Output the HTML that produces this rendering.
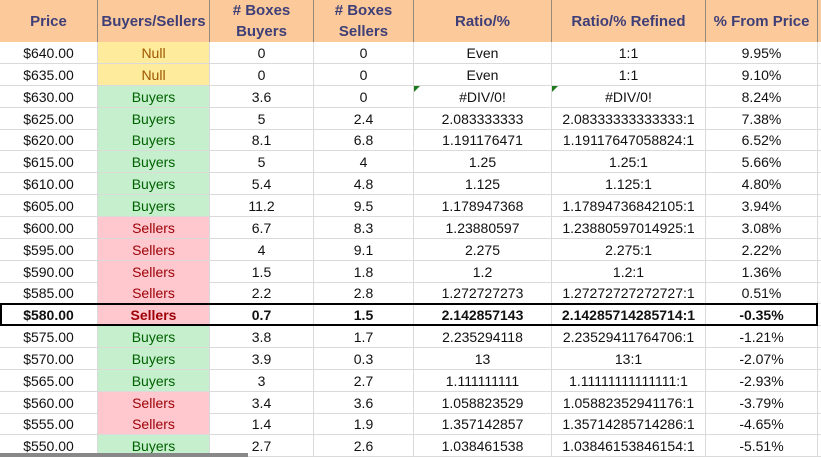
<!DOCTYPE html>
<html><head><meta charset="utf-8"><style>
body{margin:0;width:821px;height:457px;overflow:hidden;background:#fff;font-family:"Liberation Sans",sans-serif;position:relative}
.h{position:absolute;top:0;height:42px;background:#fcc99a;color:#3f3f78;font-weight:bold;font-size:15px;display:flex;align-items:center;justify-content:center;text-align:center;line-height:21px;box-sizing:border-box;border-right:1px solid #9a8a7a}
.r{position:absolute;left:0;width:821px;height:22px;border-bottom:1px solid #dadada;box-sizing:border-box}
.c{position:absolute;top:0;height:21px;line-height:22px;text-align:center;font-size:14px;color:#111;border-right:1px solid #dadada;box-sizing:border-box}
.n{background:#ffeb9c;color:#9c5700}.b{background:#c6efce;color:#006100}.s{background:#ffc7ce;color:#9c0006}
.bold .c{font-weight:bold}
.tri{position:absolute;top:0;left:0;width:0;height:0;border-top:6px solid #1e7a1e;border-right:6px solid transparent}
</style></head><body>
<div class="h" style="left:0;width:98px">Price</div>
<div class="h" style="left:98px;width:112px">Buyers/Sellers</div>
<div class="h" style="left:210px;width:104px"># Boxes<br>Buyers</div>
<div class="h" style="left:314px;width:100px"># Boxes<br>Sellers</div>
<div class="h" style="left:414px;width:138px">Ratio/%</div>
<div class="h" style="left:552px;width:154px">Ratio/% Refined</div>
<div class="h" style="left:706px;width:112px">% From Price</div>
<div class="h" style="left:818px;width:3px;border:none"></div>
<div id="t"></div>
<script>
var d=[["$640.00","Null","n","0","0","Even","1:1","9.95%"],
["$635.00","Null","n","0","0","Even","1:1","9.10%"],
["$630.00","Buyers","b","3.6","0","#DIV/0!","#DIV/0!","8.24%"],
["$625.00","Buyers","b","5","2.4","2.083333333","2.08333333333333:1","7.38%"],
["$620.00","Buyers","b","8.1","6.8","1.191176471","1.19117647058824:1","6.52%"],
["$615.00","Buyers","b","5","4","1.25","1.25:1","5.66%"],
["$610.00","Buyers","b","5.4","4.8","1.125","1.125:1","4.80%"],
["$605.00","Buyers","b","11.2","9.5","1.178947368","1.17894736842105:1","3.94%"],
["$600.00","Sellers","s","6.7","8.3","1.23880597","1.23880597014925:1","3.08%"],
["$595.00","Sellers","s","4","9.1","2.275","2.275:1","2.22%"],
["$590.00","Sellers","s","1.5","1.8","1.2","1.2:1","1.36%"],
["$585.00","Sellers","s","2.2","2.8","1.272727273","1.27272727272727:1","0.51%"],
["$580.00","Sellers","s","0.7","1.5","2.142857143","2.14285714285714:1","-0.35%"],
["$575.00","Buyers","b","3.8","1.7","2.235294118","2.23529411764706:1","-1.21%"],
["$570.00","Buyers","b","3.9","0.3","13","13:1","-2.07%"],
["$565.00","Buyers","b","3","2.7","1.111111111","1.11111111111111:1","-2.93%"],
["$560.00","Sellers","s","3.4","3.6","1.058823529","1.05882352941176:1","-3.79%"],
["$555.00","Sellers","s","1.4","1.9","1.357142857","1.35714285714286:1","-4.65%"],
["$550.00","Buyers","b","2.7","2.6","1.038461538","1.03846153846154:1","-5.51%"]];
var L=[0,98,210,314,414,552,706,818],h="";
d.forEach(function(r,i){var top=42+i*21.85;
h+='<div class="r'+(i==12?' bold':'')+'" style="top:'+top+'px">';
var v=[r[0],r[1],r[3],r[4],r[5],r[6],r[7]];
for(var j=0;j<7;j++){var cls=j==1?' '+r[2]:'';var tri=(i==2&&(j==4||j==5))?'<span class="tri"></span>':'';
h+='<div class="c'+cls+'" style="left:'+L[j]+'px;width:'+(L[j+1]-L[j])+'px">'+tri+v[j]+'</div>';}
h+='</div>';});
h+='<div style="position:absolute;left:0;top:'+(42+12*21.85-1)+'px;width:818px;height:23px;border:2px solid #000;box-sizing:border-box"></div>';
h+='<div style="position:absolute;left:0;top:453px;width:248px;height:4px;background:#888"></div>';
document.getElementById('t').innerHTML=h;
</script>
</body></html>
